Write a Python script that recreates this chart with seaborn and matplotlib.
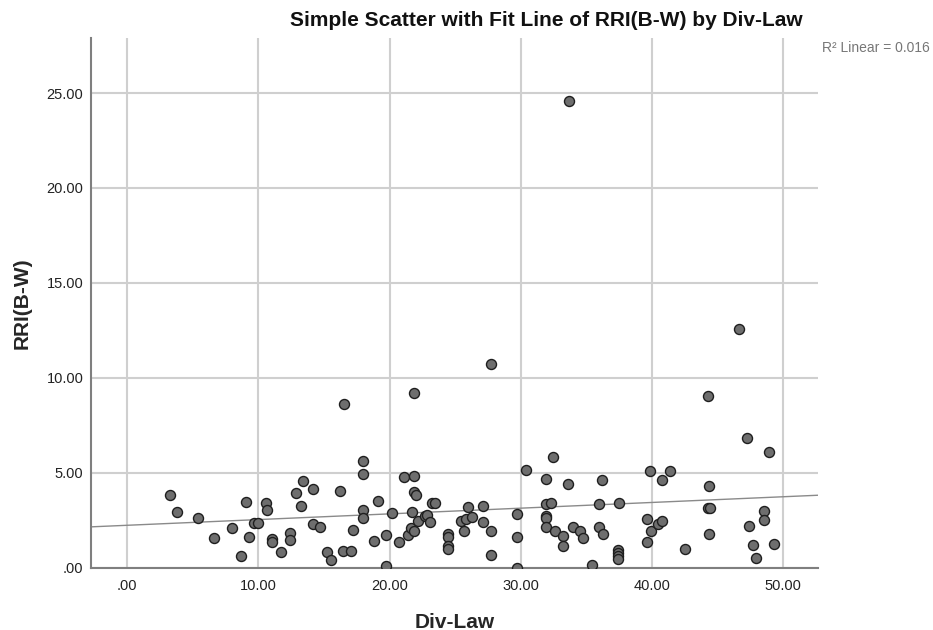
import matplotlib
matplotlib.use('Agg')
import matplotlib.pyplot as plt
import seaborn as sns
import pandas as pd
from matplotlib.ticker import FuncFormatter

# Datos (Div-Law vs RRI(B-W))
div_law = [
    3.26, 3.77, 5.37, 9.06, 10.59, 10.64, 7.97, 9.69, 9.95, 6.64,
    9.27, 8.68, 11.05, 11.05, 11.71, 12.42, 12.42, 12.85, 13.24, 13.36,
    14.18, 14.15, 14.71, 15.24, 15.53, 16.21, 16.47, 17.05, 17.21, 17.97,
    17.97, 17.97, 17.97, 18.81, 19.08, 19.73, 19.73, 20.15, 20.74, 21.07,
    21.83, 21.83, 21.98, 21.43, 21.60, 21.83, 21.71, 22.14, 22.73, 22.85,
    23.05, 23.20, 23.45, 24.43, 24.43, 24.43, 24.43, 25.42, 25.65, 25.80,
    26.00, 26.26, 27.10, 27.10, 27.71, 27.71, 29.69, 29.69, 29.69, 30.41,
    31.94, 32.44, 31.94, 32.27, 31.94, 31.94, 31.94, 32.60, 33.21, 33.21,
    33.62, 33.97, 34.50, 34.76, 35.45, 35.95, 35.95, 36.16, 36.26, 37.46,
    37.44, 37.44, 37.44, 37.44, 39.82, 41.37, 40.74, 39.60, 39.90, 40.49,
    40.74, 39.60, 42.55, 44.35, 44.27, 44.43, 44.35, 47.40, 47.71, 47.92,
    48.55, 48.55, 49.31, 33.66, 46.60, 44.30, 16.50, 21.84, 27.74, 47.25,
    48.90,
]
rri_bw = [
    3.82, 2.92, 2.59, 3.46, 3.41, 3.03, 2.09, 2.36, 2.36, 1.54,
    1.59, 0.62, 1.50, 1.36, 0.80, 1.83, 1.45, 3.91, 3.24, 4.57,
    4.13, 2.27, 2.12, 0.83, 0.38, 4.01, 0.87, 0.87, 1.96, 5.62,
    4.91, 3.03, 2.61, 1.39, 3.50, 1.69, 0.09, 2.85, 1.33, 4.75,
    4.83, 3.97, 3.80, 1.71, 2.09, 1.92, 2.94, 2.46, 2.71, 2.76,
    2.41, 3.38, 3.42, 1.75, 1.62, 1.13, 0.99, 2.46, 1.92, 2.54,
    3.17, 2.67, 3.25, 2.41, 1.92, 0.66, 2.83, 1.62, 0.00, 5.15,
    4.66, 5.83, 3.34, 3.41, 2.73, 2.59, 2.15, 1.94, 1.67, 1.13,
    4.38, 2.11, 1.94, 1.57, 0.13, 3.33, 2.15, 4.61, 1.75, 3.41,
    0.90, 0.75, 0.60, 0.45, 5.08, 5.08, 4.61, 2.57, 1.94, 2.27,
    2.45, 1.33, 0.97, 4.29, 3.15, 3.13, 1.75, 2.18, 1.20, 0.50,
    2.96, 2.48, 1.22, 24.60, 12.59, 9.03, 8.60, 9.22, 10.71, 6.82,
    6.09,
]
x_ticks = [0, 10, 20, 30, 40, 50]
y_ticks = [0, 5, 10, 15, 20, 25]

df = pd.DataFrame({'Div-Law': div_law, 'RRI(B-W)': rri_bw})

sns.set_style("white")
plt.rcParams['font.family'] = ['Liberation Sans', 'DejaVu Sans']

fig = plt.figure(figsize=(9.33, 6.3), dpi=100)
ax = fig.add_axes([0.0975, 0.0992, 0.7792, 0.8405])
ax.set_xlim(-2.77, 52.65)
ax.set_ylim(0, 27.9)

sns.regplot(data=df, x='Div-Law', y='RRI(B-W)', ax=ax, ci=None, truncate=False,
            scatter_kws={'s': 52, 'color': '#6e6e6e', 'edgecolor': '#1e1e1e',
                         'linewidths': 1.0, 'alpha': 1, 'zorder': 3},
            line_kws={'color': '#8a8a8a', 'lw': 1.0, 'zorder': 2})
ax.set_xlim(-2.77, 52.65)
ax.set_ylim(0, 27.9)

fmt = FuncFormatter(lambda v, p: ('%.2f' % v).lstrip('0') if v == 0 else '%.2f' % v)
ax.set_xticks(x_ticks)
ax.set_yticks(y_ticks)
ax.xaxis.set_major_formatter(fmt)
ax.yaxis.set_major_formatter(fmt)
ax.tick_params(axis='both', labelsize=10.5, colors='#222222', length=0)
ax.tick_params(axis='x', pad=8)
ax.tick_params(axis='y', pad=5.5)

ax.grid(True, color='#cfcfcf', lw=1.5)
ax.set_axisbelow(True)
for s in ['top', 'right']:
    ax.spines[s].set_visible(False)
for s in ['left', 'bottom']:
    ax.spines[s].set_color('#7f7f7f')
    ax.spines[s].set_linewidth(1.5)

ax.set_xlabel('Div-Law', fontsize=15, fontweight='bold')
ax.set_ylabel('RRI(B-W)', fontsize=15, fontweight='bold')
ax.xaxis.set_label_coords(0.5, -0.103)
ax.yaxis.set_label_coords(-0.095, 0.5)
ax.xaxis.label.set_va('center')
ax.yaxis.label.set_va('center')

fig.text(546 / 933, 1 - 20 / 630, 'Simple Scatter with Fit Line of RRI(B-W) by Div-Law',
         ha='center', va='center', fontsize=15, fontweight='bold', color='#111111')
fig.text(822 / 933, 1 - 48 / 630, 'R² Linear = 0.016', ha='left', va='center',
         fontsize=10, color='#777777')

fig.savefig('out.png', dpi=100)
